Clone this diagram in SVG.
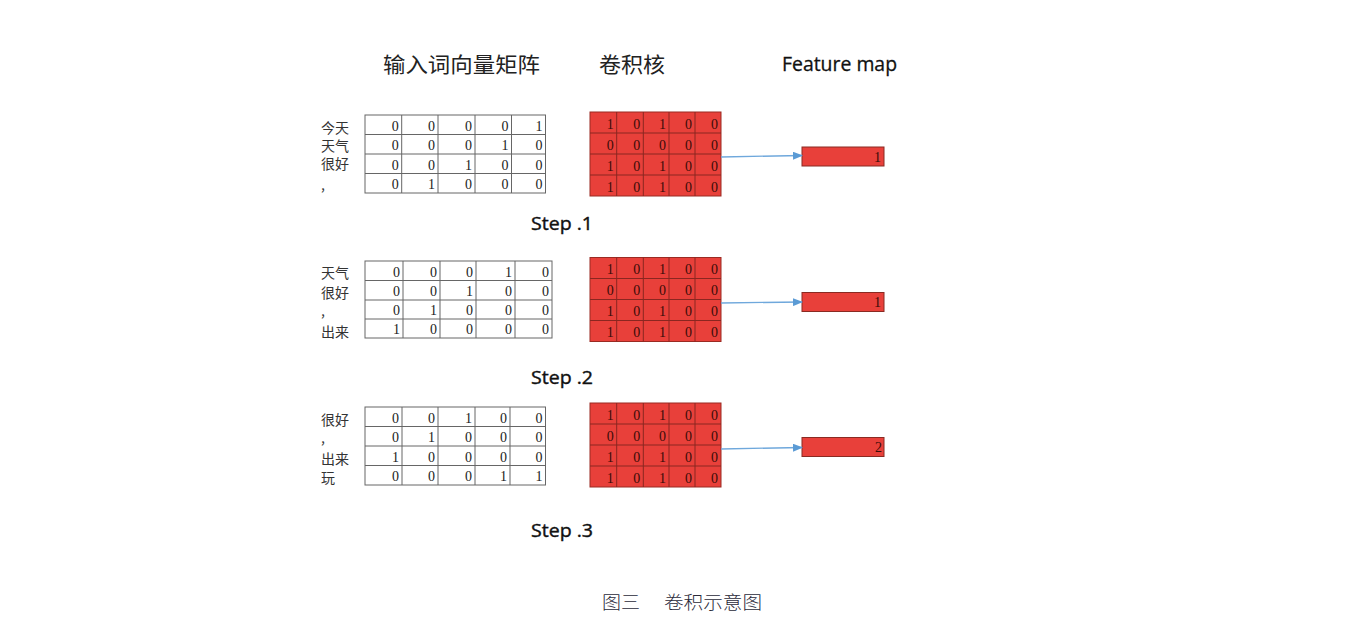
<svg xmlns="http://www.w3.org/2000/svg" width="1359" height="617" viewBox="0 0 1359 617">
<style>
.title{font-family:"Noto Sans CJK SC","Noto Sans",sans-serif;font-size:21px;fill:#222}
.en{font-family:"Open Sans","Liberation Sans",sans-serif;fill:#111;stroke:#111;stroke-width:0.3}
.step{font-family:"Open Sans","Liberation Sans",sans-serif;font-size:18.5px;fill:#111;stroke:#111;stroke-width:0.4}
.lbl{font-family:"Noto Sans CJK SC",sans-serif;font-size:14px;fill:#333}
.num{font-family:"Liberation Serif",serif;font-size:14px;text-anchor:end;fill:#222}
.knum{font-family:"Liberation Serif",serif;font-size:14px;text-anchor:end;fill:#3a0c08}
.grid{fill:#fff;stroke:#666;stroke-width:1}
.gl{stroke:#666;stroke-width:1}
.kern{fill:#E8403A;stroke:#9a2a22;stroke-width:1}
.kl{stroke:#8a2620;stroke-width:1}
.fm{fill:#E8403A;stroke:#8a2a22;stroke-width:1}
.conn{stroke:#6FA8DC;stroke-width:1.3;fill:none;marker-end:url(#ah)}
.cap{font-family:"Noto Sans CJK SC",serif;font-size:18px;font-weight:300;fill:#2a2a3a}
</style>
<defs>
<marker id="ah" markerWidth="10" markerHeight="8" refX="9" refY="4" orient="auto" markerUnits="userSpaceOnUse">
<path d="M0,0 L10,4 L0,8 Z" fill="#5B9BD5"/>
</marker>
<g id="kernel">
<rect class="kern" x="590" y="0" width="131" height="84"/>
<path class="kl" d="M616.7,0V84M643.3,0V84M669,0V84M695,0V84M590,21H721M590,42H721M590,63H721"/>
<text class="knum" x="613.7" y="16.5">1</text><text class="knum" x="640.3" y="16.5">0</text><text class="knum" x="666" y="16.5">1</text><text class="knum" x="692" y="16.5">0</text><text class="knum" x="718" y="16.5">0</text>
<text class="knum" x="613.7" y="37.5">0</text><text class="knum" x="640.3" y="37.5">0</text><text class="knum" x="666" y="37.5">0</text><text class="knum" x="692" y="37.5">0</text><text class="knum" x="718" y="37.5">0</text>
<text class="knum" x="613.7" y="58.5">1</text><text class="knum" x="640.3" y="58.5">0</text><text class="knum" x="666" y="58.5">1</text><text class="knum" x="692" y="58.5">0</text><text class="knum" x="718" y="58.5">0</text>
<text class="knum" x="613.7" y="79.5">1</text><text class="knum" x="640.3" y="79.5">0</text><text class="knum" x="666" y="79.5">1</text><text class="knum" x="692" y="79.5">0</text><text class="knum" x="718" y="79.5">0</text>
</g>
</defs>
<rect width="1359" height="617" fill="#fff"/>

<g id="titles">
<text class="title" x="383" y="72" textLength="157" lengthAdjust="spacingAndGlyphs">输入词向量矩阵</text>
<text class="title" x="599" y="72" textLength="66" lengthAdjust="spacingAndGlyphs">卷积核</text>
<text class="en" x="782" y="71" font-size="19.5" textLength="115" lengthAdjust="spacingAndGlyphs">Feature map</text>
</g>

<!-- Step 1 -->
<g id="labels1">
<text class="lbl" x="321" y="133">今天</text>
<text class="lbl" x="321" y="151">天气</text>
<text class="lbl" x="321" y="169">很好</text>
<text class="lbl" x="321" y="190">,</text>
</g>
<g id="input1">
<rect class="grid" x="365" y="115" width="180.5" height="78"/>
<path class="gl" d="M401.7,115V193M438,115V193M475,115V193M511.5,115V193M365,134.5H545.5M365,154H545.5M365,173.5H545.5"/>
<text class="num" x="398.7" y="130.5">0</text><text class="num" x="435" y="130.5">0</text><text class="num" x="472" y="130.5">0</text><text class="num" x="508.5" y="130.5">0</text><text class="num" x="542.5" y="130.5">1</text>
<text class="num" x="398.7" y="150">0</text><text class="num" x="435" y="150">0</text><text class="num" x="472" y="150">0</text><text class="num" x="508.5" y="150">1</text><text class="num" x="542.5" y="150">0</text>
<text class="num" x="398.7" y="169.5">0</text><text class="num" x="435" y="169.5">0</text><text class="num" x="472" y="169.5">1</text><text class="num" x="508.5" y="169.5">0</text><text class="num" x="542.5" y="169.5">0</text>
<text class="num" x="398.7" y="189">0</text><text class="num" x="435" y="189">1</text><text class="num" x="472" y="189">0</text><text class="num" x="508.5" y="189">0</text><text class="num" x="542.5" y="189">0</text>
</g>
<g id="kernel1"><use href="#kernel" transform="translate(0,112)"/></g>
<g id="fm1">
<rect class="fm" x="802" y="147" width="82" height="19"/>
<text class="knum" x="881" y="161.5">1</text>
</g>
<text class="step" x="531" y="230" textLength="62" lengthAdjust="spacingAndGlyphs">Step .1</text>

<!-- Step 2 -->
<g id="labels2">
<text class="lbl" x="321" y="278">天气</text>
<text class="lbl" x="321" y="298">很好</text>
<text class="lbl" x="321" y="316">,</text>
<text class="lbl" x="321" y="337">出来</text>
</g>
<g id="input2">
<rect class="grid" x="365" y="261" width="187" height="77"/>
<path class="gl" d="M403,261V338M440,261V338M476,261V338M515,261V338M365,280.5H552M365,300H552M365,319H552"/>
<text class="num" x="400" y="276.5">0</text><text class="num" x="437" y="276.5">0</text><text class="num" x="473" y="276.5">0</text><text class="num" x="512" y="276.5">1</text><text class="num" x="549" y="276.5">0</text>
<text class="num" x="400" y="296">0</text><text class="num" x="437" y="296">0</text><text class="num" x="473" y="296">1</text><text class="num" x="512" y="296">0</text><text class="num" x="549" y="296">0</text>
<text class="num" x="400" y="315">0</text><text class="num" x="437" y="315">1</text><text class="num" x="473" y="315">0</text><text class="num" x="512" y="315">0</text><text class="num" x="549" y="315">0</text>
<text class="num" x="400" y="334">1</text><text class="num" x="437" y="334">0</text><text class="num" x="473" y="334">0</text><text class="num" x="512" y="334">0</text><text class="num" x="549" y="334">0</text>
</g>
<g id="kernel2"><use href="#kernel" transform="translate(0,257.5)"/></g>
<g id="fm2">
<rect class="fm" x="802" y="292.5" width="82" height="19"/>
<text class="knum" x="881" y="307">1</text>
</g>
<text class="step" x="531" y="384" textLength="62" lengthAdjust="spacingAndGlyphs">Step .2</text>

<!-- Step 3 -->
<g id="labels3">
<text class="lbl" x="321" y="425">很好</text>
<text class="lbl" x="321" y="443">,</text>
<text class="lbl" x="321" y="464">出来</text>
<text class="lbl" x="321" y="483">玩</text>
</g>
<g id="input3">
<rect class="grid" x="365" y="407" width="180.5" height="78"/>
<path class="gl" d="M402,407V485M438,407V485M475,407V485M510,407V485M365,426.5H545.5M365,446H545.5M365,465.5H545.5"/>
<text class="num" x="399" y="422.5">0</text><text class="num" x="435" y="422.5">0</text><text class="num" x="472" y="422.5">1</text><text class="num" x="507" y="422.5">0</text><text class="num" x="542.5" y="422.5">0</text>
<text class="num" x="399" y="442">0</text><text class="num" x="435" y="442">1</text><text class="num" x="472" y="442">0</text><text class="num" x="507" y="442">0</text><text class="num" x="542.5" y="442">0</text>
<text class="num" x="399" y="461.5">1</text><text class="num" x="435" y="461.5">0</text><text class="num" x="472" y="461.5">0</text><text class="num" x="507" y="461.5">0</text><text class="num" x="542.5" y="461.5">0</text>
<text class="num" x="399" y="481">0</text><text class="num" x="435" y="481">0</text><text class="num" x="472" y="481">0</text><text class="num" x="507" y="481">1</text><text class="num" x="542.5" y="481">1</text>
</g>
<g id="kernel3"><use href="#kernel" transform="translate(0,403)"/></g>
<g id="fm3">
<rect class="fm" x="802" y="437.5" width="82" height="19"/>
<text class="knum" x="882" y="452">2</text>
</g>
<text class="step" x="531" y="537" textLength="62" lengthAdjust="spacingAndGlyphs">Step .3</text>

<g id="connectors">
<path class="conn" d="M721,157 L802,155.5"/>
<path class="conn" d="M721,303 L802,302"/>
<path class="conn" d="M721,449 L802,447.5"/>
</g>

<text class="cap" x="602" y="609"><tspan textLength="38" lengthAdjust="spacingAndGlyphs">图三</tspan><tspan x="664" textLength="98" lengthAdjust="spacingAndGlyphs">卷积示意图</tspan></text>
</svg>
